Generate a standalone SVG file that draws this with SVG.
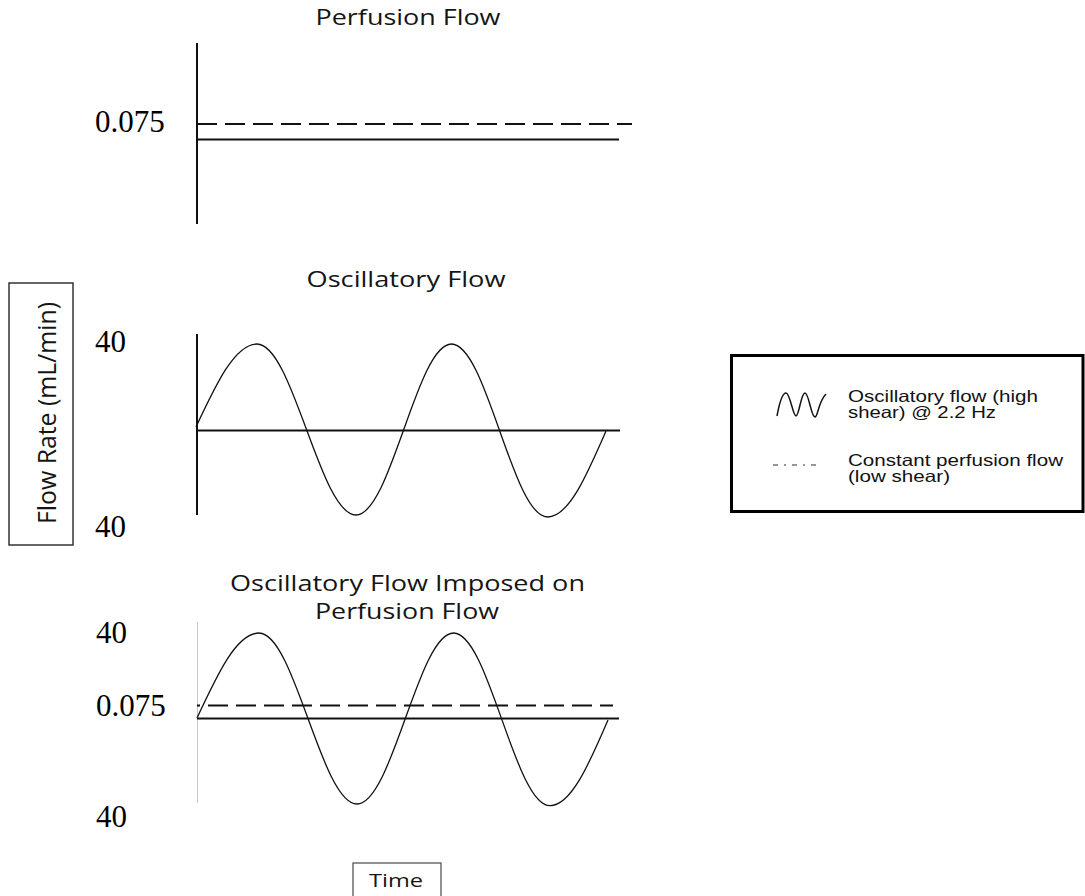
<svg xmlns="http://www.w3.org/2000/svg" width="1085" height="896" viewBox="0 0 1085 896">
<style>
.title{font-family:"Open Sans","Noto Sans",sans-serif;font-size:21px;fill:#151515;text-anchor:middle}
.num{font-family:"Liberation Serif","Times New Roman",serif;font-size:31px;fill:#000}
.axis{stroke:#111;stroke-width:2;fill:none}
.base{stroke:#111;stroke-width:2;fill:none}
.dash{stroke:#111;stroke-width:2;fill:none;stroke-dasharray:20 8}
.wave{stroke:#111;stroke-width:1.3;fill:none}
.leg{font-family:"Liberation Sans",Arial,sans-serif;font-size:16.5px;fill:#111}
</style>
<rect width="1085" height="896" fill="#fff"/>
<g id="panel-perfusion">
<text class="title" x="408" y="25" textLength="185" lengthAdjust="spacingAndGlyphs">Perfusion Flow</text>
<line class="axis" x1="197" y1="43" x2="197" y2="224"/>
<line class="dash" x1="197" y1="124" x2="632" y2="124"/>
<line class="base" x1="197" y1="139.5" x2="619" y2="139.5"/>
<text class="num" x="95" y="132">0.075</text>
</g>
<g id="panel-oscillatory">
<text class="title" x="406" y="287" textLength="199" lengthAdjust="spacingAndGlyphs">Oscillatory Flow</text>
<line class="axis" x1="197" y1="334" x2="197" y2="515"/>
<line class="base" x1="197" y1="430.5" x2="620" y2="430.5"/>
<path class="wave" d="M196,427 C216.3,383.5 235,344 257,344 C293,344 320,515 356,515 C390.8,515 416.7,344 451.5,344 C486.5,344 512.6,517 547.6,517 C568.6,517 586.5,476 606,431"/>
<text class="num" x="95" y="352">40</text>
<text class="num" x="95" y="537">40</text>
</g>
<g id="panel-combined">
<text class="title" x="407.5" y="591" textLength="355" lengthAdjust="spacingAndGlyphs">Oscillatory Flow Imposed on</text>
<text class="title" x="407" y="619" textLength="184" lengthAdjust="spacingAndGlyphs">Perfusion Flow</text>
<line x1="197.5" y1="622" x2="197.5" y2="803" stroke="#c8c8c8" stroke-width="1"/>
<line class="dash" x1="197" y1="705.5" x2="613" y2="705.5" stroke-dashoffset="17"/>
<line class="base" x1="197" y1="718.5" x2="619" y2="718.5"/>
<path class="wave" d="M197,718 C217.7,673.5 236.7,633 259,633 C294.7,633 321.3,804 357,804 C392.2,804 418.4,633 453.6,633 C488.7,633 514.9,805.7 550,805.7 C570.9,805.7 588.7,764.9 608,720"/>
<text class="num" x="96" y="643">40</text>
<text class="num" x="96" y="716">0.075</text>
<text class="num" x="96" y="827">40</text>
</g>
<g id="y-label">
<rect x="9" y="283" width="64" height="262" fill="none" stroke="#333" stroke-width="1.5"/>
<text transform="translate(56,413) rotate(-90)" font-family="'Open Sans','Noto Sans',sans-serif" font-size="25" fill="#151515" text-anchor="middle" textLength="222" lengthAdjust="spacingAndGlyphs">Flow Rate (mL/min)</text>
</g>
<g id="x-label">
<rect x="353" y="863" width="88" height="40" fill="none" stroke="#555" stroke-width="1.3"/>
<text x="396" y="887" font-family="'Open Sans','Noto Sans',sans-serif" font-size="18" fill="#151515" text-anchor="middle" textLength="54" lengthAdjust="spacingAndGlyphs">Time</text>
</g>
<g id="legend">
<rect x="731.5" y="355.5" width="351.5" height="156" fill="none" stroke="#000" stroke-width="3"/>
<path d="M777,416 C779,405 782,393 786,393 C790,393 793,416 796,416 C799,416 801,393 805,393 C809,393 811,417 815,417 C818,417 818,402 826,394" fill="none" stroke="#111" stroke-width="1.5"/>
<text class="leg" x="848" y="402" textLength="190" lengthAdjust="spacingAndGlyphs">Oscillatory flow (high</text>
<text class="leg" x="848" y="418" textLength="148" lengthAdjust="spacingAndGlyphs">shear) @ 2.2 Hz</text>
<line x1="773" y1="465" x2="820" y2="465" stroke="#333" stroke-width="1.2" stroke-dasharray="5 6 2 6"/>
<text class="leg" x="848" y="466" textLength="215" lengthAdjust="spacingAndGlyphs">Constant perfusion flow</text>
<text class="leg" x="848" y="482" textLength="102" lengthAdjust="spacingAndGlyphs">(low shear)</text>
</g>
</svg>
